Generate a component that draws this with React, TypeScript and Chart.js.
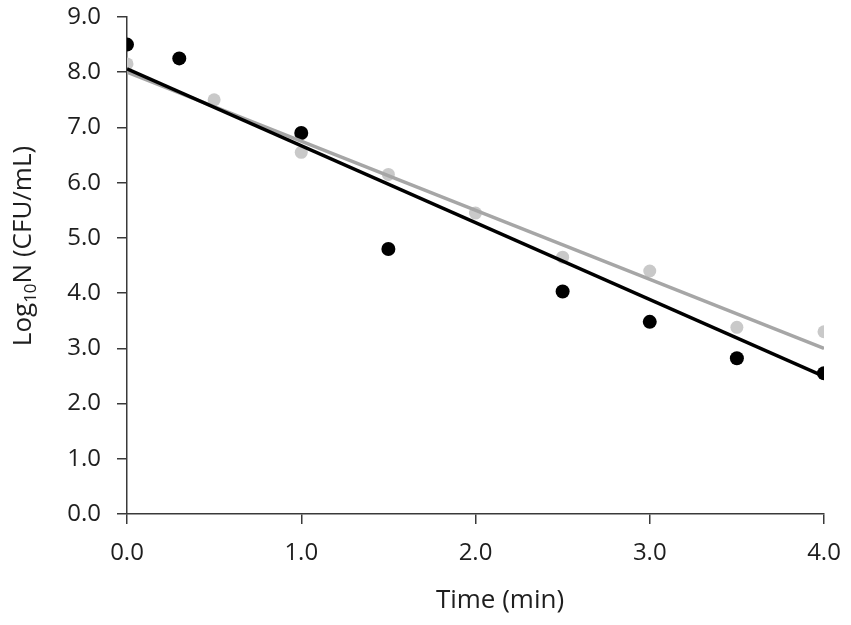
import { useEffect, useRef } from "react"
import { Chart, registerables } from "chart.js"

Chart.register(...registerables)

// Black series (first strain)
const timeBlack = [0, 0.3, 1.0, 1.5, 2.5, 3.0, 3.5, 4.0]
const logBlack = [8.5, 8.25, 6.9, 4.8, 4.03, 3.48, 2.82, 2.55]

// Grey series (second strain)
const timeGray = [0, 0.5, 1.0, 1.5, 2.0, 2.5, 3.0, 3.5, 4.0]
const logGray = [8.15, 7.5, 6.55, 6.15, 5.45, 4.65, 4.4, 3.38, 3.3]

// Linear trend lines, end points
const trendTime = [0, 4]
const trendBlack = [8.06, 2.49]
const trendGray = [8.0, 3.0]

const xTicks = [0, 1, 2, 3, 4]
const yTicks = [0, 1, 2, 3, 4, 5, 6, 7, 8, 9]

const FONT = "'Open Sans', sans-serif"
const TEXT = "#1e1e1e"
const AXIS = "#3a3a3a"

const toPoints = (xs: number[], ys: number[]) => xs.map((x, i) => ({ x, y: ys[i] }))

// draws the axis titles (the y title needs a subscript)
const titlesPlugin = {
  id: "titles",
  afterDraw(chart: Chart) {
    const { ctx } = chart
    ctx.save()
    ctx.fillStyle = TEXT
    ctx.font = `26px ${FONT}`
    ctx.textAlign = "center"
    ctx.textBaseline = "middle"
    ctx.fillText("Time (min)", 500, 601)

    // rotated y title: Log₁₀N (CFU/mL)
    ctx.translate(22, 246)
    ctx.rotate(-Math.PI / 2)
    const parts = [
      { t: "Log", size: 26, dy: 0 },
      { t: "10", size: 17, dy: 5 },
      { t: "N (CFU/mL)", size: 26, dy: 0 },
    ]
    let total = 0
    parts.forEach((p) => {
      ctx.font = `${p.size}px ${FONT}`
      total += ctx.measureText(p.t).width
    })
    let x = -total / 2
    ctx.textAlign = "left"
    ctx.textBaseline = "alphabetic"
    parts.forEach((p) => {
      ctx.font = `${p.size}px ${FONT}`
      ctx.fillText(p.t, x, 9 + p.dy)
      x += ctx.measureText(p.t).width
    })
    ctx.restore()
  },
}

export default function App() {
  const chartRef = useRef<HTMLCanvasElement>(null)
  const chartInstance = useRef<Chart | null>(null)

  useEffect(() => {
    if (!chartRef.current) return
    if (chartInstance.current) chartInstance.current.destroy()

    const ctx = chartRef.current.getContext("2d")
    if (!ctx) return

    chartInstance.current = new Chart(ctx, {
      type: "scatter",
      data: {
        datasets: [
          {
            label: "Black",
            data: toPoints(timeBlack, logBlack),
            backgroundColor: "#000000",
            borderColor: "#000000",
            pointRadius: 7,
            borderWidth: 0,
            order: 3,
          },
          {
            label: "Grey",
            data: toPoints(timeGray, logGray),
            backgroundColor: "#c9c9c9",
            borderColor: "#c9c9c9",
            pointRadius: 6.5,
            borderWidth: 0,
            order: 4,
          },
          {
            label: "Black trend",
            data: toPoints(trendTime, trendBlack),
            showLine: true,
            borderColor: "#000000",
            borderWidth: 3.5,
            pointRadius: 0,
            order: 1,
          },
          {
            label: "Grey trend",
            data: toPoints(trendTime, trendGray),
            showLine: true,
            borderColor: "#a6a6a6",
            borderWidth: 3.5,
            pointRadius: 0,
            order: 2,
          },
        ],
      },
      options: {
        animation: false,
        responsive: true,
        maintainAspectRatio: false,
        layout: { padding: { top: 17, right: 27, left: 0, bottom: 0 } },
        plugins: {
          legend: { display: false },
          tooltip: { enabled: false },
        },
        scales: {
          x: {
            type: "linear",
            min: 0,
            max: 4,
            afterBuildTicks: (scale) => {
              scale.ticks = xTicks.map((value) => ({ value }))
            },
            afterFit: (scale) => {
              scale.height = 111
              scale.paddingLeft = 0
              scale.paddingRight = 0
            },
            border: { display: true, color: AXIS, width: 1.5 },
            grid: { drawOnChartArea: false, drawTicks: true, tickLength: 10, color: AXIS, lineWidth: 1.5 },
            ticks: {
              color: TEXT,
              font: { family: FONT, size: 24 },
              padding: 15,
              callback: (v) => Number(v).toFixed(1),
            },
          },
          y: {
            type: "linear",
            min: 0,
            max: 9,
            afterBuildTicks: (scale) => {
              scale.ticks = yTicks.map((value) => ({ value }))
            },
            afterFit: (scale) => {
              scale.width = 127
              scale.paddingTop = 0
              scale.paddingBottom = 0
            },
            border: { display: true, color: AXIS, width: 1.5 },
            grid: { drawOnChartArea: false, drawTicks: true, tickLength: 10, color: AXIS, lineWidth: 1.5 },
            ticks: {
              color: TEXT,
              font: { family: FONT, size: 24 },
              padding: 16,
              callback: (v) => Number(v).toFixed(1),
            },
          },
        },
      },
      plugins: [titlesPlugin],
    })

    return () => {
      if (chartInstance.current) {
        chartInstance.current.destroy()
        chartInstance.current = null
      }
    }
  }, [])

  return (
    <div style={{ position: "fixed", left: 0, top: 0, width: 851, height: 625, background: "#ffffff" }}>
      <canvas ref={chartRef} />
    </div>
  )
}
